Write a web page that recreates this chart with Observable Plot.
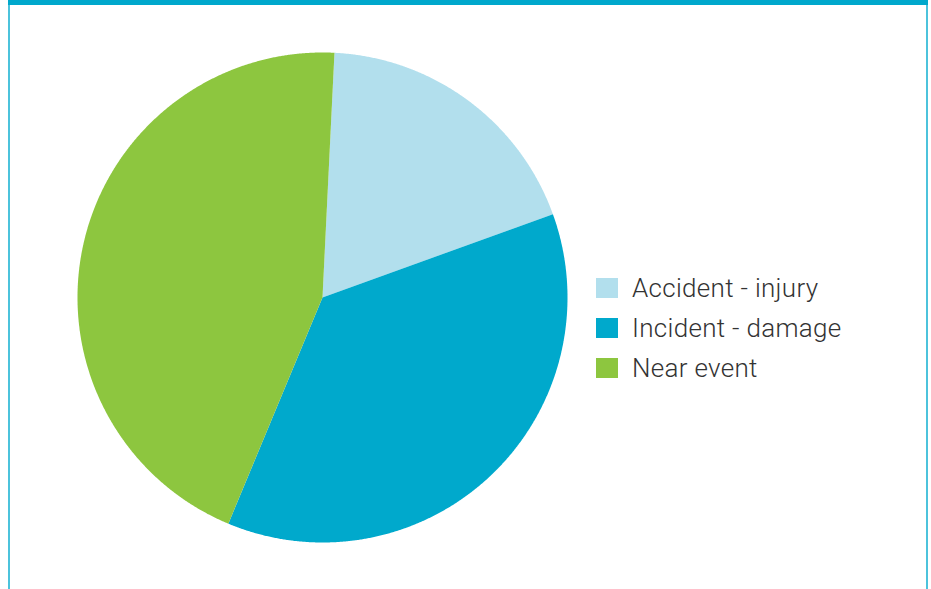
<!DOCTYPE html>
<html>
<head>
<meta charset="utf-8">
<script src="https://cdn.jsdelivr.net/npm/d3@7"></script>
<script src="https://cdn.jsdelivr.net/npm/@observablehq/plot@0.6"></script>
<style>
  html, body { margin: 0; padding: 0; background: #fff; }
  #wrap { position: relative; width: 931px; height: 589px; overflow: hidden; }
  .bar-top { position: absolute; left: 8px; top: 0; width: 920px; height: 5px; background: #00a8cc; }
  .bar-left { position: absolute; left: 8px; top: 5px; width: 2px; height: 584px; background: #4cc3dc; }
  .bar-right { position: absolute; left: 926px; top: 5px; width: 2px; height: 584px; background: #4cc3dc; }
  #legend { position: absolute; left: 596px; top: 268px; font-family: Roboto, "Liberation Sans", sans-serif; font-weight: 300; font-size: 26px; letter-spacing: 0.3px; color: #333; }
  .row { display: flex; align-items: center; height: 40px; white-space: nowrap; }
  .sw { width: 22px; height: 20px; margin-right: 14px; flex: none; }
  #chart { position: absolute; left: 0; top: 0; }
</style>
</head>
<body>
<div id="wrap">
  <div id="chart"></div>
  <div class="bar-top"></div>
  <div class="bar-left"></div>
  <div class="bar-right"></div>
  <div id="legend"></div>
</div>
<script>
const categories = ["Accident - injury", "Incident - damage", "Near event"];
const values = [18.7, 36.8, 44.5];
const colors = ["#b2dfed", "#00a9cc", "#8dc63f"];
const startDeg = 2.8;

const data = categories.map((c, i) => ({category: c, value: values[i]}));
const start = startDeg * Math.PI / 180;
const arcs = d3.pie().sort(null).value(d => d.value).startAngle(start).endAngle(start + 2 * Math.PI)(data);

const features = arcs.map(a => {
  const pts = [[0, 0]];
  const n = Math.max(2, Math.ceil((a.endAngle - a.startAngle) / (0.25 * Math.PI / 180)));
  for (let k = 0; k <= n; k++) {
    const t = a.startAngle + (a.endAngle - a.startAngle) * k / n;
    pts.push([Math.sin(t), Math.cos(t)]);
  }
  pts.push([0, 0]);
  return {type: "Feature", properties: {category: a.data.category}, geometry: {type: "Polygon", coordinates: [pts]}};
});

const chart = Plot.plot({
  width: 931,
  height: 589,
  marginLeft: 77,
  marginRight: 364,
  marginTop: 52,
  marginBottom: 47,
  projection: {type: "reflect-y", domain: {type: "MultiPoint", coordinates: [[-1, -1], [1, 1]]}},
  color: {domain: categories, range: colors},
  marks: [
    Plot.geo(features, {fill: d => d.properties.category, stroke: null})
  ]
});
document.getElementById("chart").appendChild(chart);

const legend = document.getElementById("legend");
categories.forEach((c, i) => {
  const row = document.createElement("div");
  row.className = "row";
  const sw = document.createElement("div");
  sw.className = "sw";
  sw.style.background = colors[i];
  const lab = document.createElement("span");
  lab.textContent = c;
  row.appendChild(sw);
  row.appendChild(lab);
  legend.appendChild(row);
});
</script>
</body>
</html>
